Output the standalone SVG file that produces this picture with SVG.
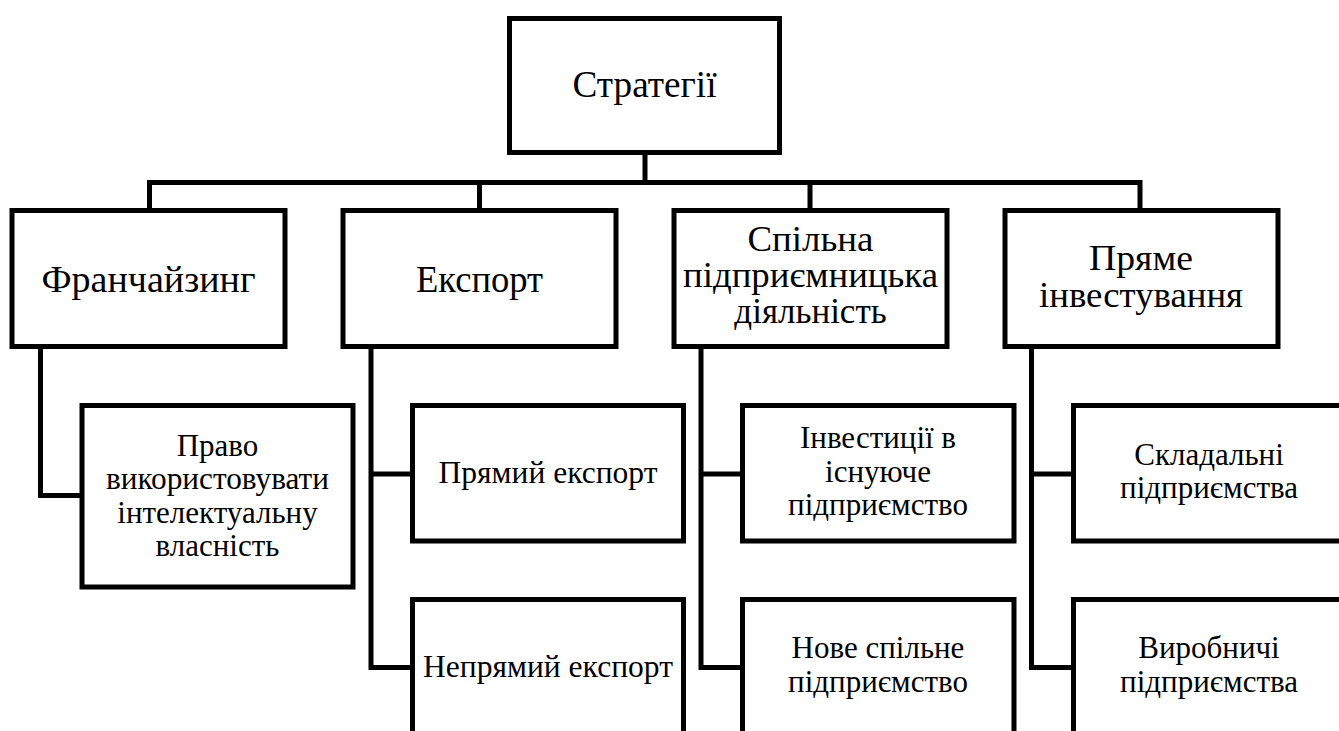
<svg xmlns="http://www.w3.org/2000/svg" width="1339" height="731" viewBox="0 0 1339 731">
<style>
.box{fill:#fff;stroke:#000;stroke-width:5}
.ln{fill:none;stroke:#000;stroke-width:5;stroke-linejoin:miter;stroke-linecap:square}
text{fill:#000;text-anchor:middle}
.t1{font-size:38px}
.t2{font-size:37px}
.t2m{font-size:35px}
.t3{font-size:31px}
</style>
<rect width="1339" height="731" fill="#fff"/>
<g id="connectors">
<path class="ln" d="M645,153 V182.5 M149.5,182.5 H1140 M149.5,182.5 V210 M479.5,182.5 V210 M810,182.5 V210 M1140,182.5 V210"/>
<path class="ln" d="M40.5,346 V495.5 H82"/>
<path class="ln" d="M371,346 V667.5 H412.5 M371,474 H412.5"/>
<path class="ln" d="M701,346 V667.5 H742.5 M701,474 H742.5"/>
<path class="ln" d="M1031.5,346 V667.5 H1073.5 M1031.5,474 H1073.5"/>
</g>
<g id="nodes" font-family="Liberation Serif, Times New Roman, serif">
<g id="n-root"><rect class="box" x="509.5" y="18.5" width="270" height="134"/><text class="t1" x="644.5" y="97" textLength="144" lengthAdjust="spacingAndGlyphs">Стратегії</text></g>
<g id="n-franchise"><rect class="box" x="12" y="210.5" width="273" height="136"/><text class="t2" x="148.5" y="292" textLength="214" lengthAdjust="spacingAndGlyphs">Франчайзинг</text></g>
<g id="n-export"><rect class="box" x="343" y="210.5" width="273" height="136"/><text class="t2" x="479.5" y="292" textLength="127" lengthAdjust="spacingAndGlyphs">Експорт</text></g>
<g id="n-joint"><rect class="box" x="674" y="210.5" width="273" height="136"/><text class="t2m" x="810.5" y="251" textLength="126" lengthAdjust="spacingAndGlyphs">Спільна</text><text class="t2m" x="810.5" y="287" textLength="255" lengthAdjust="spacingAndGlyphs">підприємницька</text><text class="t2m" x="810.5" y="323">діяльність</text></g>
<g id="n-direct"><rect class="box" x="1005" y="210.5" width="273" height="136"/><text class="t2m" x="1141" y="270" textLength="104" lengthAdjust="spacingAndGlyphs">Пряме</text><text class="t2m" x="1141" y="307" textLength="204" lengthAdjust="spacingAndGlyphs">інвестування</text></g>
<g id="n-ip"><rect class="box" x="82" y="405.5" width="271" height="181.5"/><text class="t3" x="217.5" y="455.5">Право</text><text class="t3" x="217.5" y="489" textLength="223" lengthAdjust="spacingAndGlyphs">використовувати</text><text class="t3" x="217.5" y="522.5">інтелектуальну</text><text class="t3" x="217.5" y="556">власність</text></g>
<g id="n-direct-export"><rect class="box" x="412.5" y="405.5" width="271" height="135.5"/><text class="t3" x="548" y="483" textLength="219" lengthAdjust="spacingAndGlyphs">Прямий експорт</text></g>
<g id="n-indirect-export"><rect class="box" x="412.5" y="599.5" width="271" height="160"/><text class="t3" x="548" y="677" textLength="250" lengthAdjust="spacingAndGlyphs">Непрямий експорт</text></g>
<g id="n-invest-existing"><rect class="box" x="742.5" y="405.5" width="271.5" height="135.5"/><text class="t3" x="878" y="448">Інвестиції в</text><text class="t3" x="878" y="482">існуюче</text><text class="t3" x="878" y="515">підприємство</text></g>
<g id="n-new-joint"><rect class="box" x="742.5" y="599.5" width="271.5" height="160"/><text class="t3" x="878" y="658">Нове спільне</text><text class="t3" x="878" y="692">підприємство</text></g>
<g id="n-assembly"><rect class="box" x="1073.5" y="405.5" width="271" height="135.5"/><text class="t3" x="1209" y="465">Складальні</text><text class="t3" x="1209" y="498">підприємства</text></g>
<g id="n-production"><rect class="box" x="1073.5" y="599.5" width="271" height="160"/><text class="t3" x="1209" y="658">Виробничі</text><text class="t3" x="1209" y="692">підприємства</text></g>
</g>
</svg>
